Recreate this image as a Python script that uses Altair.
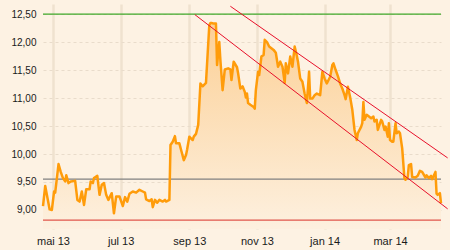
import altair as alt
import pandas as pd

# ---- price series ----
dates = [
    "2013-04-22", "2013-04-24", "2013-04-28", "2013-04-30", "2013-05-02", "2013-05-03",
    "2013-05-06", "2013-05-08", "2013-05-10", "2013-05-12", "2013-05-13", "2013-05-15",
    "2013-05-17", "2013-05-21", "2013-05-23", "2013-05-25", "2013-05-27", "2013-05-29",
    "2013-05-31", "2013-06-03", "2013-06-04", "2013-06-06", "2013-06-07", "2013-06-10",
    "2013-06-12", "2013-06-14", "2013-06-16", "2013-06-18", "2013-06-20", "2013-06-23",
    "2013-06-25", "2013-06-27", "2013-06-30", "2013-07-03", "2013-07-05", "2013-07-07",
    "2013-07-09", "2013-07-12", "2013-07-15", "2013-07-18", "2013-07-21", "2013-07-23",
    "2013-07-24", "2013-07-27", "2013-07-29", "2013-07-30", "2013-08-01", "2013-08-03",
    "2013-08-05", "2013-08-08", "2013-08-10", "2013-08-11", "2013-08-14", "2013-08-15",
    "2013-08-17", "2013-08-19", "2013-08-20", "2013-08-23", "2013-08-25", "2013-08-27",
    "2013-08-29", "2013-08-30", "2013-09-01", "2013-09-04", "2013-09-05", "2013-09-07",
    "2013-09-09", "2013-09-11", "2013-09-13", "2013-09-16", "2013-09-19", "2013-09-20",
    "2013-09-21", "2013-09-23", "2013-09-25", "2013-09-26", "2013-09-28", "2013-09-29",
    "2013-10-01", "2013-10-03", "2013-10-06", "2013-10-08", "2013-10-09", "2013-10-11",
    "2013-10-14", "2013-10-15", "2013-10-17", "2013-10-19", "2013-10-21", "2013-10-22",
    "2013-10-23", "2013-10-24", "2013-10-26", "2013-10-29", "2013-10-30", "2013-10-31",
    "2013-11-02", "2013-11-03", "2013-11-05", "2013-11-07", "2013-11-08", "2013-11-10",
    "2013-11-12", "2013-11-14", "2013-11-16", "2013-11-18", "2013-11-20", "2013-11-22",
    "2013-11-24", "2013-11-26", "2013-11-27", "2013-11-29", "2013-12-01", "2013-12-03",
    "2013-12-05", "2013-12-07", "2013-12-08", "2013-12-10", "2013-12-12", "2013-12-14",
    "2013-12-15", "2013-12-16", "2013-12-18", "2013-12-19", "2013-12-21", "2013-12-23",
    "2013-12-25", "2013-12-28", "2013-12-30", "2014-01-01", "2014-01-03", "2014-01-06",
    "2014-01-08", "2014-01-09", "2014-01-11", "2014-01-13", "2014-01-15", "2014-01-17",
    "2014-01-19", "2014-01-20", "2014-01-22", "2014-01-24", "2014-01-26", "2014-01-28",
    "2014-01-30", "2014-01-31", "2014-02-03", "2014-02-04", "2014-02-05", "2014-02-06",
    "2014-02-08", "2014-02-10", "2014-02-12", "2014-02-14", "2014-02-15", "2014-02-17",
    "2014-02-18", "2014-02-21", "2014-02-22", "2014-02-24", "2014-02-25", "2014-02-27",
    "2014-02-28", "2014-03-01", "2014-03-03", "2014-03-04", "2014-03-06", "2014-03-07",
    "2014-03-09", "2014-03-10", "2014-03-12", "2014-03-14", "2014-03-15", "2014-03-17",
    "2014-03-18", "2014-03-20", "2014-03-21", "2014-03-24", "2014-03-26", "2014-03-28",
    "2014-03-30", "2014-04-02", "2014-04-03", "2014-04-05", "2014-04-07", "2014-04-08",
    "2014-04-11", "2014-04-12", "2014-04-13", "2014-04-15", "2014-04-16",
]
prices = [
    9.07, 9.43, 9.01, 9.00, 9.33, 9.31,
    9.82, 9.68, 9.57, 9.51, 9.62, 9.48,
    9.51, 9.52, 9.18, 9.15, 9.33, 9.09,
    9.37, 9.37, 9.51, 9.48, 9.57, 9.61,
    9.27, 9.45, 9.48, 9.27, 9.18, 9.30,
    8.94, 9.24, 9.24, 9.07, 9.23, 9.15,
    9.29, 9.33, 9.31, 9.36, 9.33, 9.31,
    9.19, 9.16, 9.19, 9.05, 9.18, 9.13,
    9.18, 9.15, 9.18, 9.15, 9.18, 10.16,
    10.22, 10.32, 10.19, 10.19, 10.04, 9.89,
    9.98, 10.08, 10.31, 10.25, 10.31, 10.36,
    10.52, 11.26, 11.21, 11.27, 12.30, 12.34,
    12.34, 12.33, 12.33, 11.59, 12.00, 11.68,
    11.14, 11.51, 11.53, 11.51, 11.32, 11.65,
    11.55, 11.44, 11.17, 11.21, 11.11, 11.01,
    11.08, 10.91, 10.88, 10.84, 10.81, 11.14,
    11.47, 11.41, 11.74, 11.77, 12.04, 12.00,
    11.92, 11.89, 11.86, 11.81, 11.56, 11.65,
    11.56, 11.27, 11.62, 11.44, 11.74, 11.56,
    11.92, 11.75, 11.65, 11.35, 11.29, 11.08,
    10.99, 10.91, 11.47, 10.99, 10.99, 11.05,
    11.08, 11.05, 11.47, 11.35, 11.26, 11.38,
    11.59, 11.62, 11.50, 11.39, 11.26, 11.17,
    11.05, 10.98, 11.20, 11.02, 10.79, 10.43,
    10.25, 10.37, 10.49, 10.55, 10.93, 10.61,
    10.70, 10.67, 10.64, 10.67, 10.58, 10.61,
    10.43, 10.61, 10.58, 10.43, 10.49, 10.31,
    10.55, 10.25, 10.22, 10.22, 10.55, 10.37,
    10.40, 10.37, 10.10, 9.57, 9.54, 9.59,
    9.80, 9.82, 9.59, 9.58, 9.61, 9.70,
    9.68, 9.58, 9.62, 9.57, 9.61, 9.55,
    9.68, 9.29, 9.27, 9.30, 9.12,
]

# ---- horizontal levels ----
level_values = [12.50, 9.55, 8.82]
level_colors = ["#3fa82a", "#808080", "#e0564c"]
level_names = ["resistance", "support", "floor"]

# ---- trend channel (two diagonal lines) ----
trend_ids = ["upper", "upper", "lower", "lower"]
trend_dates = ["2013-10-08", "2014-04-22", "2013-09-06", "2014-04-22"]
trend_values = [12.64, 9.93, 12.49, 9.02]

# ---- axes ----
x_tick_dates = ["2013-05-01", "2013-07-01", "2013-09-01", "2013-11-01", "2014-01-01", "2014-03-01"]
x_domain = ["2013-04-22", "2014-04-16"]
y_ticks = [9.0, 9.5, 10.0, 10.5, 11.0, 11.5, 12.0, 12.5]
y_domain = [8.66, 12.68]
month_names = ["jan", "feb", "mar", "apr", "mai", "jun", "jul", "aug", "sep", "okt", "nov", "des"]

BG = "#fdf2e3"
FONT = "Liberation Sans"


def to_dt(s):
    t = pd.Timestamp(s)
    return alt.DateTime(year=t.year, month=t.month, date=t.day)


price_df = pd.DataFrame({"date": pd.to_datetime(dates), "price": prices})
level_df = pd.DataFrame({"name": level_names, "value": level_values, "color": level_colors})
trend_df = pd.DataFrame({"id": trend_ids, "date": pd.to_datetime(trend_dates), "value": trend_values})

month_arr = "[" + ",".join("'%s'" % m for m in month_names) + "]"

x_scale = alt.Scale(domain=[to_dt(d) for d in x_domain], nice=False)
x_axis = alt.Axis(
    title=None,
    values=[to_dt(d) for d in x_tick_dates],
    labelExpr=month_arr + "[month(datum.value)] + ' ' + timeFormat(datum.value, '%y')",
    domain=False,
    ticks=False,
    labelPadding=6,
    labelFontSize=11,
    labelColor="#1a1a1a",
    labelFont=FONT,
    labelOverlap=False,
    grid=True,
    gridColor="#efe2cf",
    gridWidth=2.5,
)

y_scale = alt.Scale(domain=y_domain, nice=False, zero=False)
y_axis = alt.Axis(
    title=None,
    values=y_ticks,
    labelExpr="replace(format(datum.value, '.2f'), '.', ',')",
    domain=False,
    ticks=False,
    labelPadding=7,
    labelFontSize=10,
    labelColor="#1a1a1a",
    labelFont=FONT,
    labelOverlap=False,
    labelFlush=False,
    grid=True,
    gridColor="#e9dccb",
    gridDash=[3, 3],
    gridWidth=1,
)

base = alt.Chart(price_df)

area = base.mark_area(
    color=alt.Gradient(
        gradient="linear",
        stops=[
            alt.GradientStop(color="#fcd096", offset=0),
            alt.GradientStop(color="#fdf0df", offset=1),
        ],
        x1=1, x2=1, y1=0, y2=1,
    ),
    clip=True,
).encode(
    x=alt.X("date:T", scale=x_scale, axis=x_axis),
    y=alt.Y("price:Q", scale=y_scale, axis=y_axis),
    y2=alt.datum(y_domain[0]),
)

line = base.mark_line(color="#ff9c0a", strokeWidth=2.5, strokeJoin="round").encode(
    x=alt.X("date:T", scale=x_scale, axis=x_axis),
    y=alt.Y("price:Q", scale=y_scale, axis=y_axis),
)

levels = alt.Chart(level_df).mark_rule(strokeWidth=1.3).encode(
    y=alt.Y("value:Q", scale=y_scale, axis=y_axis),
    color=alt.Color("color:N", scale=None),
)

trends = alt.Chart(trend_df).mark_line(color="#e8102a", strokeWidth=1).encode(
    x=alt.X("date:T", scale=x_scale, axis=x_axis),
    y=alt.Y("value:Q", scale=y_scale, axis=y_axis),
    detail="id:N",
)

chart = (
    alt.layer(area, levels, line, trends)
    .properties(
        width=398,
        height=225,
        background=BG,
        autosize=alt.AutoSizeParams(type="none"),
        padding={"left": 43, "top": 4, "right": 9, "bottom": 21},
    )
    .configure_view(stroke=None, fill=BG)
)

chart.save("out.html", embed_options={"renderer": "svg", "actions": False})
